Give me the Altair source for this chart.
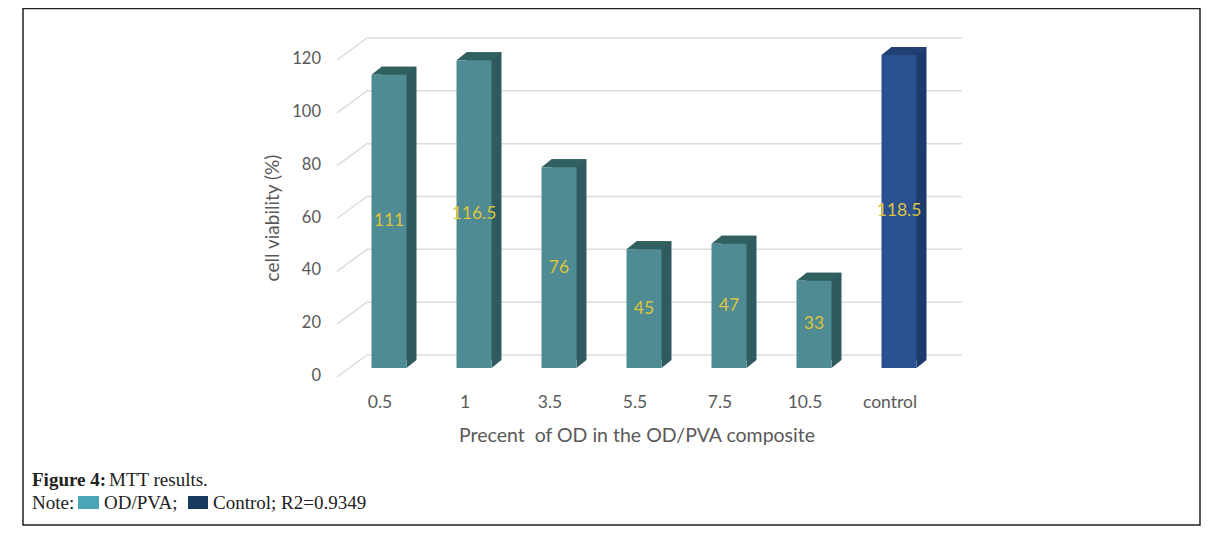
import altair as alt
import pandas as pd

# ---- data ----
categories = ["0.5", "1", "3.5", "5.5", "7.5", "10.5", "control"]
values = [111, 116.5, 76, 45, 47, 33, 118.5]
groups = ["OD/PVA", "OD/PVA", "OD/PVA", "OD/PVA", "OD/PVA", "OD/PVA", "Control"]
value_labels = ["111", "116.5", "76", "45", "47", "33", "118.5"]
y_ticks = [0, 20, 40, 60, 80, 100, 120]

group_domain = ["OD/PVA", "Control"]
front_colors = ["#4f8b92", "#2b5092"]
side_colors = ["#2f5b60", "#1d3a6b"]
top_colors = ["#30605f", "#203f73"]

AX_FONT = "Lato"
SERIF = "Liberation Serif"
GREY = "#595959"

bars = pd.DataFrame({"cat": categories, "value": values, "group": groups, "label": value_labels})
ticks = pd.DataFrame({"tick": y_ticks})
one = alt.Data(values=[{"a": 1}])

xs = alt.X("cat:N", sort=categories,
           scale=alt.Scale(domain=categories, range=[338.5, 933.5], paddingInner=0, paddingOuter=0),
           axis=None)
yscale = alt.Scale(domain=[0, 120], range=[360, 43], nice=False, zero=True)


def col(rng):
    return alt.Color("group:N", scale=alt.Scale(domain=group_domain, range=rng), legend=None)


frame = alt.Chart(one).mark_rect(fillOpacity=0, stroke="#222222", strokeWidth=1.5).encode(
    x=alt.value(15), x2=alt.value(1192), y=alt.value(0.5), y2=alt.value(517))

grid = alt.Chart(ticks).mark_rule(color="#dcdcdc", strokeWidth=1.5, yOffset=-13).encode(
    y=alt.Y("tick:Q", scale=yscale, axis=None), x=alt.value(359), x2=alt.value(954))

diag = alt.Chart(ticks).mark_rule(color="#dcdcdc", strokeWidth=1.5, yOffset=9, y2Offset=-13).encode(
    y=alt.Y("tick:Q", scale=yscale, axis=None), y2="tick:Q", x=alt.value(329), x2=alt.value(359))

tick_labels = alt.Chart(ticks).mark_text(align="right", baseline="middle", dy=8, fontSize=16.5,
                                         color=GREY, font=AX_FONT).encode(
    y=alt.Y("tick:Q", scale=yscale, axis=None), x=alt.value(313), text="tick:Q")

base = alt.Chart(bars)

back = base.mark_bar(width=35, xOffset=10, x2Offset=10, yOffset=-8, y2Offset=-8).encode(
    x=xs, y=alt.Y("value:Q", scale=yscale, axis=None), color=col(side_colors))

top_face = base.mark_point(shape="M -0.35 0 L 0.35 0 L 0.55 -0.16 L -0.15 -0.16 Z",
                           size=10000, filled=True, opacity=1, strokeWidth=0).encode(
    x=xs, y=alt.Y("value:Q", scale=yscale, axis=None), color=col(top_colors))

bottom_tri = base.mark_point(shape="M 0.35 0 L 0.35 -0.16 L 0.55 -0.16 Z",
                             size=10000, filled=True, opacity=1, strokeWidth=0).encode(
    x=xs, y=alt.YDatum(0, scale=yscale, axis=None), color=col(side_colors))

front = base.mark_bar(width=35).encode(
    x=xs, y=alt.Y("value:Q", scale=yscale, axis=None), color=col(front_colors))

val_text = base.transform_calculate(mid="datum.value / 2").mark_text(
    fontSize=17.5, color="#dcc43f", font=AX_FONT, baseline="middle").encode(
    x=xs, y=alt.Y("mid:Q", scale=yscale, axis=None), text="label:N")

x_labels = base.mark_text(fontSize=17.5, color=GREY, font=AX_FONT, dy=35, dx=-9, baseline="middle").encode(
    x=xs, y=alt.YDatum(0, scale=yscale, axis=None), text="cat:N")

x_title = alt.Chart(one).mark_text(fontSize=19.5, color=GREY, font=AX_FONT, baseline="middle").encode(
    x=alt.value(629), y=alt.value(428), text=alt.value("Precent\u00a0 of OD in the OD/PVA composite"))

y_title = alt.Chart(one).mark_text(fontSize=19, color=GREY, font=AX_FONT, baseline="middle", angle=270).encode(
    x=alt.value(265), y=alt.value(210), text=alt.value("cell viability (%)"))

cap1a = alt.Chart(one).mark_text(fontSize=19, font=SERIF, fontWeight="bold", color="#222222",
                                 align="left", baseline="alphabetic").encode(
    x=alt.value(24), y=alt.value(478), text=alt.value("Figure 4:"))
cap1b = alt.Chart(one).mark_text(fontSize=19, font=SERIF, color="#222222",
                                 align="left", baseline="alphabetic").encode(
    x=alt.value(101), y=alt.value(478), text=alt.value("MTT results."))
cap2a = alt.Chart(one).mark_text(fontSize=19, font=SERIF, color="#222222",
                                 align="left", baseline="alphabetic").encode(
    x=alt.value(24), y=alt.value(501), text=alt.value("Note:"))
sw1 = alt.Chart(one).mark_rect(color="#4aa5b6").encode(
    x=alt.value(70), x2=alt.value(91), y=alt.value(488), y2=alt.value(501))
cap2b = alt.Chart(one).mark_text(fontSize=19, font=SERIF, color="#222222",
                                 align="left", baseline="alphabetic").encode(
    x=alt.value(96), y=alt.value(501), text=alt.value("OD/PVA;"))
sw2 = alt.Chart(one).mark_rect(color="#163b5e").encode(
    x=alt.value(180), x2=alt.value(200), y=alt.value(488), y2=alt.value(501))
cap2c = alt.Chart(one).mark_text(fontSize=19, font=SERIF, color="#222222",
                                 align="left", baseline="alphabetic").encode(
    x=alt.value(205), y=alt.value(501), text=alt.value("Control; R2=0.9349"))

chart = alt.layer(
    frame, grid, diag, tick_labels, back, top_face, bottom_tri, front, val_text, x_labels,
    x_title, y_title, cap1a, cap1b, cap2a, sw1, cap2b, sw2, cap2c
).resolve_scale(
    color="independent"
).properties(
    width=1204, height=527, padding=0, autosize="none"
).configure_view(stroke=None)

chart.save("out.html", embed_options={"renderer": "svg", "actions": False})
